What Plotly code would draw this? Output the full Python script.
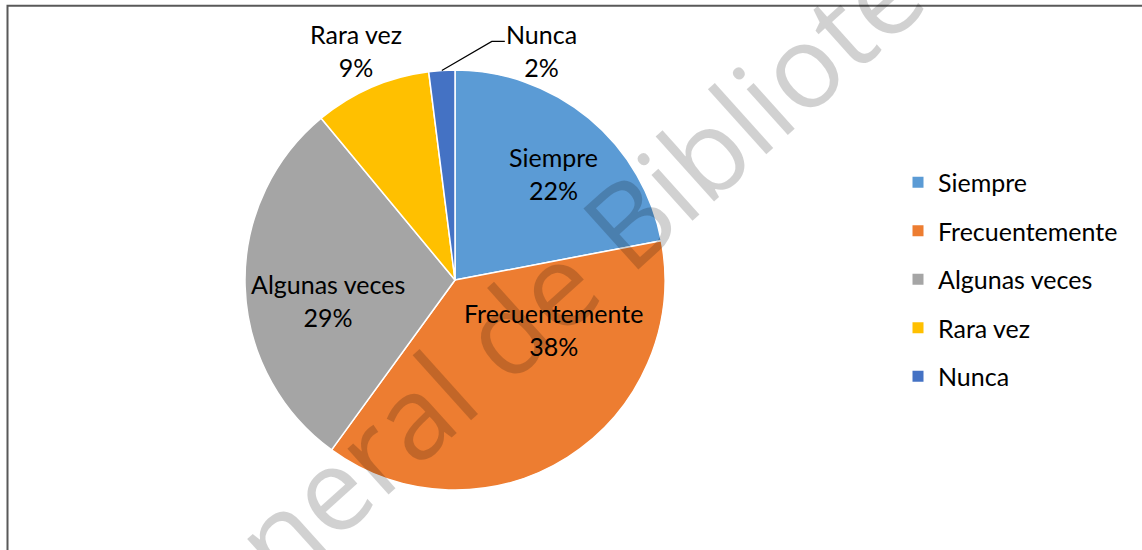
import math
import plotly.graph_objects as go

# ---- data ----
labels = ["Siempre", "Frecuentemente", "Algunas veces", "Rara vez", "Nunca"]
values = [22, 38, 29, 9, 2]
colors = ["#5B9BD5", "#ED7D31", "#A5A5A5", "#FFC000", "#4472C4"]

# ---- style / label placement (polar offset of each label from its slice) ----
# (radius as fraction of pie radius measured from centre, angle shift in degrees)
label_place = [(0.69, 3.0), (0.528, -30.8), (0.61, -7.2), (None, None), (None, None)]
# outside labels: pixel offset from the slice edge point
outside_offset = {"Rara vez": (-15.6, -36.3), "Nunca": (100.0, -20.0)}

W, H = 1142, 550
FONT = "Lato"
FS = 25

pcx, pcy, pr = 455, 280, 210
dom_x = [(pcx - pr) / W, (pcx + pr) / W]
dom_y = [(H - pcy - pr) / H, (H - pcy + pr) / H]

fig = go.Figure()
fig.add_trace(go.Pie(
    labels=labels, values=values, sort=False, direction="clockwise", rotation=0,
    marker=dict(colors=colors, line=dict(color="white", width=1.5)),
    textinfo="none",
    domain=dict(x=dom_x, y=dom_y), showlegend=False, hoverinfo="label+percent",
))

for lab, col in zip(labels, colors):
    fig.add_trace(go.Scatter(
        x=[None], y=[None], mode="markers", name=lab, legendgroup=lab,
        marker=dict(symbol="square", size=11, color=col), showlegend=True,
    ))


def px2paper(x, y):
    return x / W, 1 - y / H


total = sum(values)
cum = 0
annotations = []
shapes = []
for lab, v, place in zip(labels, values, label_place):
    mid = (cum + v / 2) / total * 360
    cum += v
    pct = f"{round(v / total * 100)}%"
    txt = f"{lab}<br>{pct}"
    if place[0] is not None:
        rf, dang = place
        a = math.radians(mid + dang)
        tx = pcx + rf * pr * math.sin(a)
        ty = pcy - rf * pr * math.cos(a)
    else:
        a = math.radians(mid)
        ex = pcx + pr * math.sin(a)
        ey = pcy - pr * math.cos(a)
        ox, oy = outside_offset[lab]
        tx, ty = ex + ox, ey + oy
        if lab == "Nunca":
            lx, ly = tx - 37, ty - 9
            x0, y0 = px2paper(ex, ey)
            x1, y1 = px2paper(lx - 13, ly)
            x2, y2 = px2paper(lx, ly)
            shapes.append(dict(type="path", path=f"M {x0} {y0} L {x1} {y1} L {x2} {y2}",
                               xref="paper", yref="paper",
                               line=dict(color="black", width=1.2)))
    ax_, ay_ = px2paper(tx, ty)
    annotations.append(dict(x=ax_, y=ay_, xref="paper", yref="paper", text=txt,
                            xanchor="center", yanchor="middle", showarrow=False,
                            font=dict(family=FONT, size=FS, color="black")))

# chart frame
shapes.append(dict(type="rect", xref="paper", yref="paper",
                   x0=7.5 / W, x1=1.05, y0=-0.1, y1=1 - 5.8 / H,
                   line=dict(color="#595959", width=2), fillcolor="rgba(0,0,0,0)",
                   layer="below"))

# watermark
wx, wy = px2paper(565, 275)
annotations.append(dict(x=wx, y=wy, xref="paper", yref="paper",
                        text="General de Biblioteca", showarrow=False, textangle=-42,
                        xanchor="center", yanchor="middle",
                        font=dict(family="Open Sans", size=115, color="rgba(0,0,0,0.18)")))

fig.update_layout(
    width=W, height=H, margin=dict(l=0, r=0, t=0, b=0),
    paper_bgcolor="white", plot_bgcolor="white",
    xaxis=dict(visible=False), yaxis=dict(visible=False),
    legend=dict(x=898 / W, y=1 - 279.5 / H, xanchor="left", yanchor="middle",
                font=dict(family=FONT, size=FS, color="black"),
                tracegroupgap=13, itemwidth=30, bgcolor="rgba(0,0,0,0)"),
    annotations=annotations, shapes=shapes,
)

fig.write_html("out.html", config={"displayModeBar": False},
               post_script="document.body.style.margin='0px';")
